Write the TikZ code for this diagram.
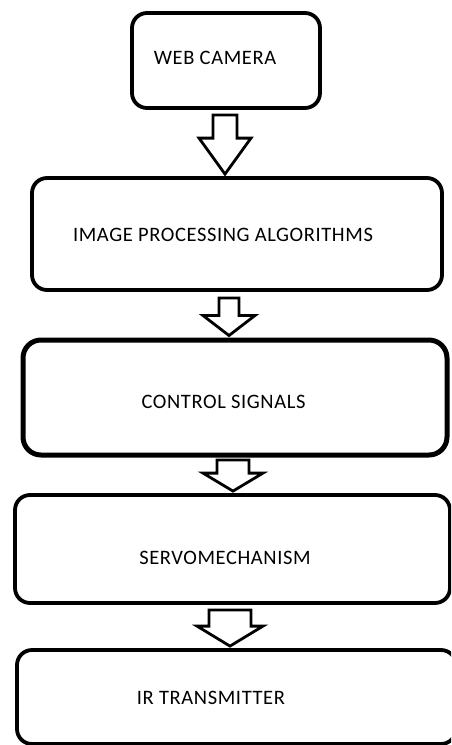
\documentclass[tikz,border=0pt]{standalone}
\usepackage{fontspec}
\setmainfont{Carlito}
\usetikzlibrary{calc}

\tikzset{
    stagebox/.style={draw, line width=3.8pt, rounded corners=15pt, inner sep=0pt},
    stagetext/.style={font=\fontsize{20.5}{22}\selectfont\addfontfeatures{LetterSpace=3}, inner sep=0pt},
    arrowline/.style={draw, line width=2.8pt, line join=miter, fill=white}
}

% hollow block arrow: #1 start coordinate, #2 target node,
% #3 half shaft width, #4 half head width, #5 head length
\newcommand{\blockarrow}[5]{%
    \coordinate (#1-tip) at (#1 |- #2.north);
    \draw[arrowline] ($(#1)+(-#3,0)$) -- ($(#1)+(#3,0)$)
        -- ($(#1-tip)+(#3,-#5)$) -- ($(#1-tip)+(#4,-#5)$)
        -- ($(#1-tip)+(0,-2)$)
        -- ($(#1-tip)+(-#4,-#5)$) -- ($(#1-tip)+(-#3,-#5)$) -- cycle;
}

\begin{document}
\begin{tikzpicture}[x=1pt, y=-1pt]
    \useasboundingbox (0,0) rectangle (451,745);
    \clip (0,0) rectangle (451,745);

    % stages
    \node[stagebox, minimum width=188, minimum height=95] (camera) at (226,60.5) {};
    \node[stagebox, minimum width=410, minimum height=112] (imgproc) at (237,234) {};
    \node[stagebox, line width=5pt, rounded corners=18pt, minimum width=424, minimum height=115] (control) at (235,397.5) {};
    \node[stagebox, minimum width=435, minimum height=108] (servo) at (232.5,549) {};
    \node[stagebox, minimum width=439, minimum height=94] (irtx) at (236.5,697) {};

    \node[stagetext] (camera-text) at (215,58) {WEB CAMERA};
    \node[stagetext] (imgproc-text) at (223,235) {IMAGE PROCESSING ALGORITHMS};
    \node[stagetext] (control-text) at (223.5,402) {CONTROL SIGNALS};
    \node[stagetext] (servo-text) at (225,558) {SERVOMECHANISM};
    \node[stagetext] (irtx-text) at (211,698) {IR TRANSMITTER};

    % arrows between stages
    \coordinate (a1) at (225,115);
    \coordinate (a2) at (229,298);
    \coordinate (a3) at (233,460);
    \coordinate (a4) at (230,610);
    \blockarrow{a1}{imgproc}{12}{26}{38}
    \blockarrow{a2}{control}{10}{26}{22}
    \blockarrow{a3}{servo}{16}{30}{20}
    \blockarrow{a4}{irtx}{21}{33}{22}
\end{tikzpicture}
\end{document}
